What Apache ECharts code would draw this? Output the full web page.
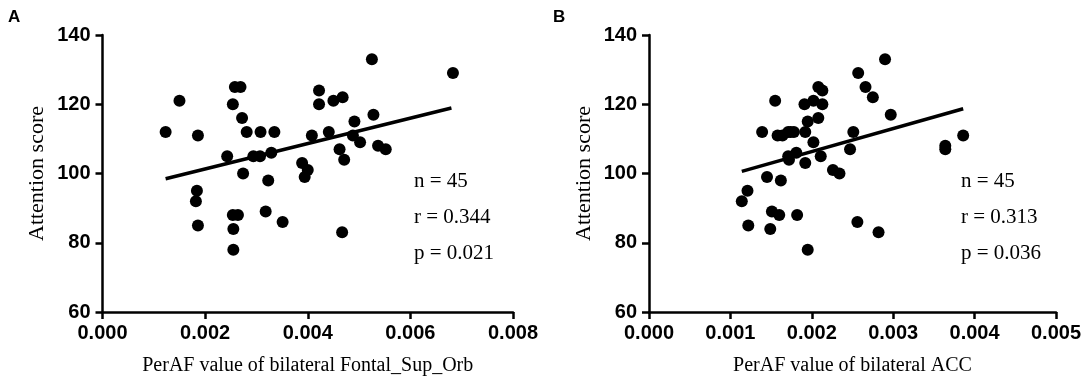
<!DOCTYPE html>
<html>
<head>
<meta charset="utf-8">
<script src="https://cdn.jsdelivr.net/npm/echarts@6/dist/echarts.min.js"></script>
<style>
  html, body { margin: 0; padding: 0; background: #fff; }
  #chart { width: 1084px; height: 385px; }
</style>
</head>
<body>
<div id="chart"></div>
<script>
// panel A: PerAF of bilateral Fontal_Sup_Orb vs attention score
const perafA = [0.00123, 0.0015, 0.00186, 0.00184, 0.00182, 0.00186, 0.00243, 0.00254, 0.00258, 0.00269,
  0.00272, 0.00281, 0.00274, 0.00254, 0.00264, 0.00255, 0.00255, 0.00294, 0.00307, 0.00308,
  0.00329, 0.00335, 0.00323, 0.00318, 0.00351, 0.00389, 0.004, 0.00394, 0.00408, 0.00422,
  0.00422, 0.00441, 0.0045, 0.00468, 0.00462, 0.00471, 0.00467, 0.00491, 0.00488, 0.00502,
  0.00525, 0.00528, 0.00537, 0.00552, 0.00683];
const scoreA = [112, 121, 111, 95, 92, 85, 105, 120, 125, 125,
  116, 112, 100, 88, 88, 84, 78, 105, 105, 112,
  106, 112, 98, 89, 86, 103, 101, 99, 111, 124,
  120, 112, 121, 122, 107, 104, 83, 115, 111, 109,
  133, 117, 108, 107, 129];
const fitA = [[0.00123, 98.5], [0.0068, 118.9]];
const statsA = ['n = 45', 'r = 0.344', 'p = 0.021'];

// panel B: PerAF of bilateral ACC vs attention score
const perafB = [0.0029, 0.00257, 0.00266, 0.00275, 0.00155, 0.00208, 0.00213, 0.00191, 0.00202, 0.00213,
  0.00195, 0.00208, 0.00139, 0.00158, 0.00164, 0.00171, 0.00178, 0.00192, 0.00202, 0.00251,
  0.00247, 0.00171, 0.00181, 0.00172, 0.00192, 0.00211, 0.00226, 0.00234, 0.00145, 0.00162,
  0.00121, 0.00114, 0.00151, 0.0016, 0.00182, 0.00122, 0.00149, 0.00195, 0.00256, 0.00282,
  0.00386, 0.00364, 0.00364, 0.00297, 0.00174];
const scoreB = [133, 129, 125, 122, 121, 125, 124, 120, 121, 120,
  115, 116, 112, 111, 111, 112, 112, 112, 109, 112,
  107, 105, 106, 104, 103, 105, 101, 100, 99, 98,
  95, 92, 89, 88, 88, 85, 84, 78, 86, 83,
  111, 108, 107, 117, 112];
const fitB = [[0.00114, 100.6], [0.00386, 118.7]];
const statsB = ['n = 45', 'r = 0.313', 'p = 0.036'];

const yTicks = { min: 60, max: 140, interval: 20 };
const xTicksA = { min: 0, max: 0.008, interval: 0.002 };
const xTicksB = { min: 0, max: 0.005, interval: 0.001 };

const pairs = (xs, ys) => xs.map((x, i) => [x, ys[i]]);

const myChart = echarts.init(document.getElementById('chart'));

function xAxisOf(idx, ticks, title) {
  return {
    type: 'value', gridIndex: idx,
    min: ticks.min, max: ticks.max, interval: ticks.interval,
    name: title, nameLocation: 'middle', nameGap: 44,
    nameTextStyle: { fontFamily: 'Liberation Serif', fontSize: 20, color: '#000' },
    axisLine: { show: true, lineStyle: { color: '#000', width: 2.5 } },
    axisTick: { show: true, length: 7, lineStyle: { color: '#000', width: 2.5 } },
    axisLabel: {
      margin: 11, color: '#000', fontFamily: 'Liberation Sans', fontWeight: 'bold', fontSize: 20,
      formatter: v => v.toFixed(3)
    },
    splitLine: { show: false }
  };
}

function yAxisOf(idx) {
  return {
    type: 'value', gridIndex: idx,
    min: yTicks.min, max: yTicks.max, interval: yTicks.interval,
    name: 'Attention score', nameLocation: 'middle', nameGap: 54,
    nameTextStyle: { fontFamily: 'Liberation Serif', fontSize: 22, color: '#000' },
    axisLine: { show: true, lineStyle: { color: '#000', width: 2.5 } },
    axisTick: { show: true, length: 7, lineStyle: { color: '#000', width: 2.5 } },
    axisLabel: { margin: 12, color: '#000', fontFamily: 'Liberation Sans', fontWeight: 'bold', fontSize: 20 },
    splitLine: { show: false }
  };
}

function statsText(lines, left) {
  return lines.map((t, i) => ({
    type: 'text', left: left, top: 171 + i * 36,
    style: { text: t, fontFamily: 'Liberation Serif', fontSize: 21, fill: '#000' }
  }));
}

const option = {
  animation: false,
  backgroundColor: '#fff',
  grid: [
    { left: 102.5, right: 571, top: 35, bottom: 73 },
    { left: 649, right: 25.5, top: 35, bottom: 73 }
  ],
  xAxis: [
    xAxisOf(0, xTicksA, 'PerAF value of bilateral Fontal_Sup_Orb'),
    xAxisOf(1, xTicksB, 'PerAF value of bilateral ACC')
  ],
  yAxis: [yAxisOf(0), yAxisOf(1)],
  graphic: [
    { type: 'text', left: 8, top: 9, style: { text: 'A', fontFamily: 'Liberation Sans', fontWeight: 'bold', fontSize: 17, fill: '#000' } },
    { type: 'text', left: 553, top: 9, style: { text: 'B', fontFamily: 'Liberation Sans', fontWeight: 'bold', fontSize: 17, fill: '#000' } },
    ...statsText(statsA, 414),
    ...statsText(statsB, 961)
  ],
  series: [
    {
      type: 'scatter', xAxisIndex: 0, yAxisIndex: 0, data: pairs(perafA, scoreA),
      symbol: 'circle', symbolSize: 12, itemStyle: { color: '#000', opacity: 1 }, z: 3
    },
    {
      type: 'line', xAxisIndex: 0, yAxisIndex: 0, data: fitA,
      symbol: 'none', lineStyle: { color: '#000', width: 3.5 }, z: 2
    },
    {
      type: 'scatter', xAxisIndex: 1, yAxisIndex: 1, data: pairs(perafB, scoreB),
      symbol: 'circle', symbolSize: 12, itemStyle: { color: '#000', opacity: 1 }, z: 3
    },
    {
      type: 'line', xAxisIndex: 1, yAxisIndex: 1, data: fitB,
      symbol: 'none', lineStyle: { color: '#000', width: 3.5 }, z: 2
    }
  ]
};

option && myChart.setOption(option);
</script>
</body>
</html>
